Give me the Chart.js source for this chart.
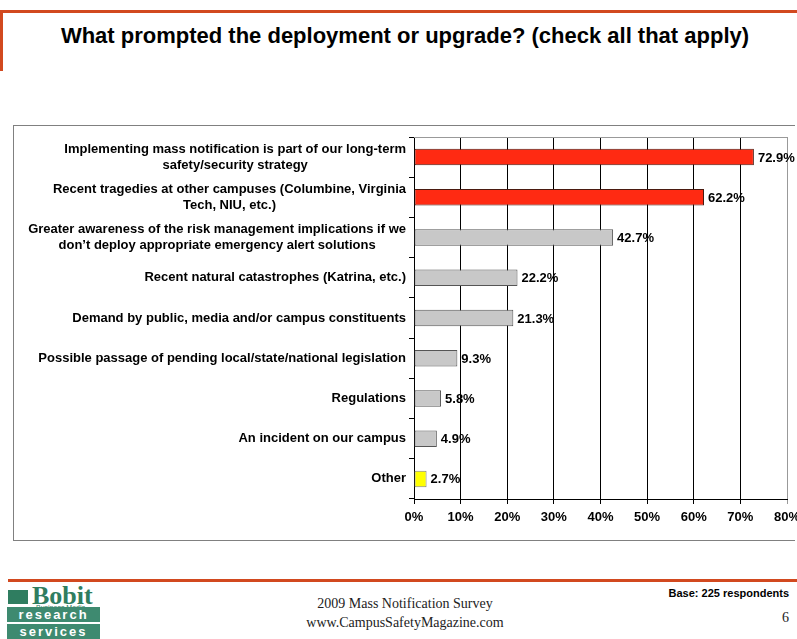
<!DOCTYPE html>
<html>
<head>
<meta charset="utf-8">
<script src="https://cdn.jsdelivr.net/npm/chart.js@4/dist/chart.umd.min.js"></script>
<style>
  body { margin: 0; width: 797px; height: 639px; background: #fff; position: relative; overflow: hidden; font-family: "Liberation Sans", Arial, sans-serif; }
  .abs { position: absolute; }
  #topLine { left: 0; top: 10px; width: 797px; height: 3px; background: #D2491F; }
  #sideLine { left: 0; top: 10px; width: 3px; height: 61px; background: #D2491F; }
  #title { left: 0; top: 23px; width: 810px; text-align: center; font-weight: bold; font-size: 22px; color: #000; }
  #box { left: 13px; top: 125px; width: 781px; height: 414px; border: 1px solid #808080; border-right: none; }
  #chartWrap { left: 14px; top: 126px; width: 783px; height: 413px; }
  #footLine { left: 8px; top: 579px; width: 789px; height: 3px; background: #D2491F; }
  #footMid { left: 250px; top: 594px; width: 310px; text-align: center; font-family: "Liberation Serif", serif; font-size: 14px; line-height: 19px; color: #222; }
  #base { right: 8px; top: 587px; font-weight: bold; font-size: 11px; color: #000; }
  #page { right: 8px; top: 610px; font-family: "Liberation Serif", serif; font-size: 14px; color: #222; }
  #bobit { left: 32px; top: 583px; font-family: "Liberation Serif", serif; font-weight: bold; font-size: 26px; color: #2F7D60; line-height: 26px; }
  #bizMedia { left: 36px; top: 604px; font-size: 7px; color: #2F7D60; }
  #logoMark { left: 8px; top: 590px; width: 20px; height: 14px; background: #2F7D60; }
  .logoBox { left: 7px; width: 93px; height: 15px; background: #3E8A70; color: #fff; font-weight: bold; font-size: 13px; letter-spacing: 2px; line-height: 15px; text-align: center; }
</style>
</head>
<body>
<div id="topLine" class="abs"></div>
<div id="sideLine" class="abs"></div>
<div id="title" class="abs">What prompted the deployment or upgrade? (check all that apply)</div>
<div id="box" class="abs"></div>
<div id="chartWrap" class="abs"><canvas id="chart" width="783" height="413"></canvas></div>
<div id="footLine" class="abs"></div>
<div id="logoMark" class="abs"></div>
<div id="bobit" class="abs">Bobit</div>
<div id="bizMedia" class="abs">Business Media</div>
<div class="abs logoBox" style="top:607px">research</div>
<div class="abs logoBox" style="top:624px">services</div>
<div id="footMid" class="abs">2009 Mass Notification Survey<br>www.CampusSafetyMagazine.com</div>
<div id="base" class="abs">Base: 225 respondents</div>
<div id="page" class="abs">6</div>
<script>
// answers, top to bottom
const categories = [
  ['Implementing mass notification is part of our long-term', 'safety/security strategy'],
  ['Recent tragedies at other campuses (Columbine, Virginia', 'Tech, NIU, etc.)'],
  ['Greater awareness of the risk management implications if we', 'don\u2019t deploy appropriate emergency alert solutions'],
  ['Recent natural catastrophes (Katrina, etc.)'],
  ['Demand by public, media and/or campus constituents'],
  ['Possible passage of pending local/state/national legislation'],
  ['Regulations'],
  ['An incident on our campus'],
  ['Other']
];
const percents = [72.9, 62.2, 42.7, 22.2, 21.3, 9.3, 5.8, 4.9, 2.7];
const barColors = ['#FF2A12', '#FF2A12', '#C8C8C8', '#C8C8C8', '#C8C8C8', '#C8C8C8', '#C8C8C8', '#C8C8C8', '#FFFF00'];
const barBorders = ['#4A1A10', '#4A1A10', '#555555', '#555555', '#555555', '#555555', '#555555', '#555555', '#808080'];

const labelFont = 'bold 13px "Liberation Sans", Arial, sans-serif';

// category labels: single lines right aligned, wrapped lines centred on their block
const categoryLabels = {
  id: 'categoryLabels',
  afterDraw(chart) {
    const ctx = chart.ctx;
    const y = chart.scales.y;
    const right = chart.chartArea.left - 8;
    ctx.save();
    ctx.font = labelFont;
    ctx.fillStyle = '#000';
    ctx.textBaseline = 'middle';
    categories.forEach((lines, i) => {
      const cy = y.getPixelForValue(i);
      const lh = 16;
      const w = Math.max(...lines.map(l => ctx.measureText(l).width));
      ctx.textAlign = lines.length > 1 ? 'center' : 'right';
      const x = lines.length > 1 ? right - w / 2 : right;
      lines.forEach((l, k) => {
        ctx.fillText(l, x, cy + (k - (lines.length - 1) / 2) * lh);
      });
    });
    ctx.restore();
  }
};

const valueLabels = {
  id: 'valueLabels',
  afterDatasetsDraw(chart) {
    const ctx = chart.ctx;
    const meta = chart.getDatasetMeta(0);
    ctx.save();
    ctx.font = labelFont;
    ctx.fillStyle = '#000';
    ctx.textAlign = 'left';
    ctx.textBaseline = 'middle';
    meta.data.forEach((bar, i) => {
      ctx.fillText(percents[i].toFixed(1) + '%', bar.x + 4, bar.y + 1);
    });
    ctx.restore();
  }
};

const plotFrame = {
  id: 'plotFrame',
  beforeDatasetsDraw(chart) {
    const { ctx, chartArea: a } = chart;
    ctx.save();
    ctx.strokeStyle = '#999999';
    ctx.lineWidth = 1;
    ctx.beginPath();
    ctx.moveTo(a.left, a.top + 0.5);
    ctx.lineTo(a.right, a.top + 0.5);
    ctx.stroke();
    ctx.restore();
  }
};

new Chart(document.getElementById('chart'), {
  type: 'bar',
  data: {
    labels: categories.map(c => c.join(' ')),
    datasets: [{
      data: percents,
      backgroundColor: barColors,
      borderColor: barBorders,
      borderWidth: 1,
      borderSkipped: false,
      categoryPercentage: 1,
      barPercentage: 0.41
    }]
  },
  options: {
    indexAxis: 'y',
    responsive: false,
    animation: false,
    layout: { padding: { top: 11, right: 10, left: 0, bottom: 0 } },
    plugins: { legend: { display: false }, tooltip: { enabled: false } },
    scales: {
      x: {
        min: 0,
        max: 80,
        afterFit(scale) {
          scale.height = 40;
          scale.paddingLeft = 0;
          scale.paddingRight = 0;
        },
        ticks: {
          stepSize: 10,
          color: '#000',
          padding: 6,
          font: { family: '"Liberation Sans", Arial, sans-serif', size: 13, weight: 'bold' },
          callback: v => v + '%'
        },
        grid: {
          color: ctx => (ctx.tick && ctx.tick.value === 80 ? '#999999' : '#000000'),
          lineWidth: 1,
          tickLength: 5
        },
        border: { color: '#000', width: 1 }
      },
      y: {
        afterFit(scale) { scale.width = 400; },
        ticks: { display: false },
        grid: { drawOnChartArea: false, color: '#000', tickLength: 5, offset: true },
        border: { color: '#000', width: 1 }
      }
    }
  },
  plugins: [categoryLabels, valueLabels, plotFrame]
});
</script>
</body>
</html>
